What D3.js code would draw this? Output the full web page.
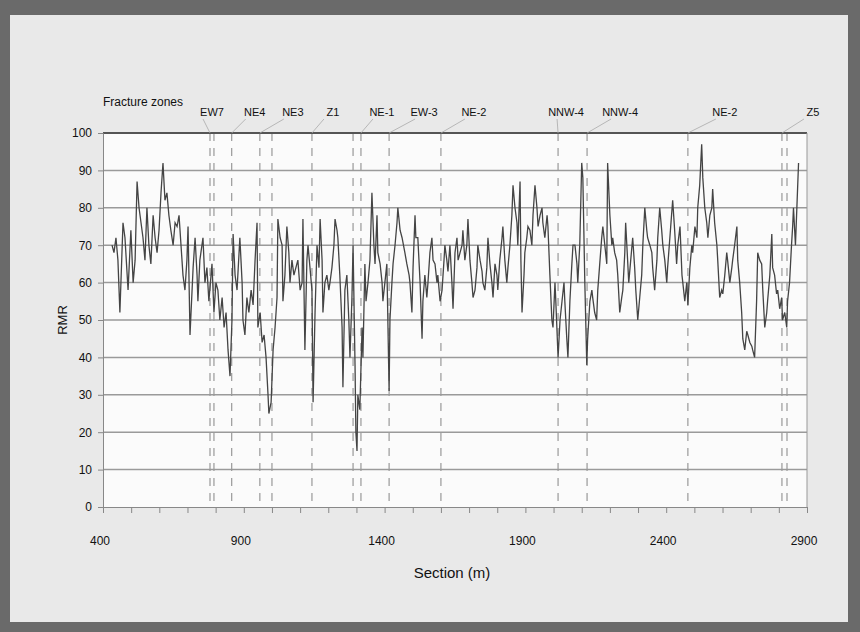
<!DOCTYPE html>
<html>
<head>
<meta charset="utf-8">
<script src="https://cdn.jsdelivr.net/npm/d3@7"></script>
<style>
  body { margin: 0; background: #666; }
  svg { display: block; font-family: "Liberation Sans", Arial, sans-serif; }
</style>
</head>
<body>
<div id="chart"></div>
<script>
// RMR profile along the tunnel section (m)
var section = [
  432,439,446,453,460,471,478,489,499,507,
  514,521,528,535,542,549,556,563,570,578,
  585,592,599,606,613,620,627,634,641,649,
  656,663,670,677,684,691,698,702,709,720,
  727,734,737,744,755,762,769,776,787,794,
  801,808,815,823,830,837,844,851,858,862,
  869,876,886,894,897,904,911,918,926,933,
  940,947,950,958,965,972,979,986,989,997,
  1004,1011,1018,1021,1029,1036,1039,1046,1053,1060,
  1064,1071,1078,1085,1092,1100,1107,1110,1117,1124,
  1128,1135,1142,1146,1153,1160,1167,1171,1178,1181,
  1188,1195,1202,1206,1213,1220,1224,1231,1234,1241,
  1249,1252,1259,1266,1273,1277,1284,1288,1295,1298,
  1302,1305,1312,1320,1323,1330,1334,1341,1348,1355,
  1362,1366,1373,1376,1384,1391,1394,1401,1408,1416,
  1419,1426,1430,1437,1444,1447,1455,1462,1472,1479,
  1487,1490,1497,1501,1508,1511,1518,1526,1533,1536,
  1543,1550,1554,1561,1568,1572,1579,1586,1589,1597,
  1604,1611,1614,1621,1625,1632,1639,1643,1650,1657,
  1661,1668,1675,1678,1685,1692,1696,1703,1710,1714,
  1721,1728,1731,1739,1746,1749,1756,1763,1767,1774,
  1781,1785,1792,1799,1802,1809,1817,1820,1827,1834,
  1838,1845,1852,1856,1863,1870,1873,1881,1884,1888,
  1895,1898,1905,1909,1916,1923,1927,1934,1941,1945,
  1952,1959,1962,1969,1977,1980,1987,1994,1998,2005,
  2008,2016,2023,2030,2037,2040,2047,2051,2058,2065,
  2069,2076,2083,2086,2093,2100,2104,2111,2118,2121,
  2129,2136,2139,2146,2153,2157,2164,2171,2175,2182,
  2189,2192,2200,2207,2210,2217,2224,2228,2235,2242,
  2246,2253,2256,2263,2267,2274,2281,2288,2292,2299,
  2306,2313,2317,2324,2331,2334,2342,2349,2352,2359,
  2367,2370,2377,2384,2388,2395,2402,2405,2413,2416,
  2423,2430,2437,2441,2449,2456,2459,2466,2473,2477,
  2484,2491,2494,2502,2509,2512,2519,2526,2530,2537,
  2544,2548,2555,2562,2565,2572,2580,2583,2590,2597,
  2601,2608,2615,2618,2626,2633,2636,2643,2651,2654,
  2661,2668,2672,2679,2686,2690,2697,2704,2707,2714,
  2721,2725,2732,2739,2743,2750,2757,2760,2768,2775,
  2778,2785,2792,2796,2803,2810,2813,2821,2828,2831,
  2838,2845,2849,2852,2859,2863,2870
];
var rmr = [
  70,68,72,66,52,76,72,58,74,60,
  66,87,80,76,72,66,80,70,65,78,
  72,68,74,84,92,82,84,78,74,70,
  76,75,78,70,62,58,66,75,46,64,
  72,62,55,66,72,60,64,55,65,52,
  60,58,50,56,48,52,42,35,50,73,
  62,58,72,60,50,46,56,52,58,54,
  66,76,48,52,44,46,40,30,25,28,
  42,48,56,77,72,70,55,62,75,68,
  60,66,62,64,66,58,60,77,42,66,
  70,64,58,28,52,70,64,77,66,52,
  60,62,58,60,64,70,77,74,72,62,
  48,32,58,62,50,40,56,70,38,20,
  15,30,26,48,40,65,55,60,66,84,
  70,65,78,68,65,60,55,60,65,31,
  50,60,65,70,76,80,74,72,68,65,
  62,60,52,64,78,72,72,60,45,55,
  62,56,60,68,72,66,65,60,62,55,
  58,66,70,66,63,70,60,53,68,72,
  66,68,70,74,66,70,77,66,60,56,
  58,64,70,66,63,60,58,64,72,65,
  60,56,65,62,58,66,72,75,66,60,
  64,70,78,86,80,76,70,87,66,52,
  62,68,72,75,74,70,78,86,80,75,
  78,80,76,72,78,75,62,50,48,60,
  55,40,50,55,60,55,45,40,55,65,
  70,70,65,60,70,92,88,60,38,45,
  55,58,56,52,50,58,65,72,75,70,
  65,92,78,70,72,68,66,62,52,56,
  58,68,76,66,60,66,72,64,58,50,
  56,62,70,80,74,72,70,68,64,58,
  66,72,80,74,70,66,60,64,72,75,
  82,74,65,70,75,62,60,55,60,54,
  64,70,68,75,72,80,86,97,88,80,
  76,72,78,80,85,76,70,66,56,58,
  57,62,68,66,60,64,66,70,75,66,
  60,52,45,42,47,46,44,43,42,40,
  55,68,66,65,58,48,52,55,62,73,
  64,62,57,58,53,56,50,52,48,55,
  60,70,75,80,70,78,92
];

// fracture zones: dashed lines (m) and their names
var zoneLines = [780, 794, 857, 957, 1000, 1142, 1288, 1316, 1416, 1600, 2016, 2119, 2477, 2811, 2829];
var zoneNames = ["EW7", "NE4", "NE3", "Z1", "NE-1", "EW-3", "NE-2", "NNW-4", "NNW-4", "NE-2", "Z5"];
var zoneAt    = [780, 857, 957, 1142, 1316, 1416, 1600, 2016, 2119, 2477, 2811];
var labelShift = [2, 23, 33, 21, 21, 35, 33, 8, 33, 37, 31];   // px, label offset from its line

var xTicks = [400, 900, 1400, 1900, 2400, 2900];
var yTicks = [0, 10, 20, 30, 40, 50, 60, 70, 80, 90, 100];

var W = 860, H = 632;
var margin = {top: 133, right: 53, bottom: 125, left: 103},
  width = W - margin.left - margin.right,
  height = H - margin.top - margin.bottom;

var svg = d3.select("#chart").append("svg")
  .attr("width", W).attr("height", H);

// frame
svg.append("rect").attr("width", W).attr("height", H).attr("fill", "#6a6a6a");
svg.append("rect").attr("x", 10).attr("y", 15).attr("width", 838).attr("height", 607)
  .attr("fill", "#e9e9e9");

var g = svg.append("g")
  .attr("transform", "translate(" + margin.left + "," + margin.top + ")");

var x = d3.scaleLinear().domain([400, 2900]).range([0, width]);
var y = d3.scaleLinear().domain([0, 100]).range([height, 0]);

g.append("rect").attr("width", width).attr("height", height).attr("fill", "#fbfbfb");

// horizontal grid
g.selectAll(".grid")
  .data(yTicks.filter(d => d > 0 && d < 100))
  .enter().append("line")
  .attr("class", "grid")
  .attr("x1", 0).attr("x2", width)
  .attr("y1", d => y(d)).attr("y2", d => y(d))
  .style("stroke", "#9a9a9a")
  .style("stroke-width", 1.5);

// fracture zone lines
g.selectAll(".zone")
  .data(zoneLines)
  .enter().append("line")
  .attr("class", "zone")
  .attr("x1", d => x(d)).attr("x2", d => x(d))
  .attr("y1", 0).attr("y2", height)
  .style("stroke", "#999")
  .style("stroke-width", 1.2)
  .style("stroke-dasharray", "8,7");

// RMR line
var pts = section.map((s, i) => ({s: s, v: rmr[i]}));
var line = d3.line().x(d => x(d.s)).y(d => y(d.v));
g.append("path")
  .datum(pts)
  .attr("d", line)
  .style("fill", "none")
  .style("stroke", "#444")
  .style("stroke-width", 1.3);

// border lines
g.append("line").attr("x1", 0).attr("x2", width).attr("y1", 0).attr("y2", 0)
  .style("stroke", "#555").style("stroke-width", 2);
g.append("line").attr("x1", width).attr("x2", width).attr("y1", 0).attr("y2", height)
  .style("stroke", "#999").style("stroke-width", 1);

// axes
var xAxis = g.append("g")
  .attr("transform", "translate(0," + height + ")")
  .call(d3.axisBottom(x).tickValues(d3.range(400, 2901, 100)).tickSize(6).tickFormat(""));
xAxis.select(".domain").style("stroke", "#888");
xAxis.selectAll(".tick line").style("stroke", "#888");

g.selectAll(".xlab")
  .data(xTicks)
  .enter().append("text")
  .attr("class", "xlab")
  .attr("x", d => x(d) - 3)
  .attr("y", height + 38)
  .attr("text-anchor", "middle")
  .style("font-size", "12px")
  .style("fill", "#111")
  .text(d => d);

var yAxis = g.append("g")
  .call(d3.axisLeft(y).tickValues(yTicks).tickSize(5).tickPadding(6));
yAxis.select(".domain").style("stroke", "#888");
yAxis.selectAll(".tick line").style("stroke", "#888");
yAxis.selectAll("text").style("font-size", "12px").style("fill", "#111")
  .style("font-family", "\"Liberation Sans\", Arial, sans-serif");

// axis titles
svg.append("text")
  .attr("x", margin.left + width / 2 - 3)
  .attr("y", 578)
  .attr("text-anchor", "middle")
  .style("font-size", "15px")
  .style("fill", "#111")
  .text("Section (m)");

svg.append("text")
  .attr("transform", "translate(67," + (margin.top + height / 2) + ") rotate(-90)")
  .attr("text-anchor", "middle")
  .style("font-size", "13px")
  .style("fill", "#111")
  .text("RMR");

// fracture zone header and labels
svg.append("text")
  .attr("x", 103).attr("y", 106)
  .style("font-size", "12px")
  .style("fill", "#111")
  .text("Fracture zones");

var labels = g.selectAll(".zlab")
  .data(zoneNames)
  .enter().append("g")
  .attr("class", "zlab");

labels.append("line")
  .attr("x1", (d, i) => x(zoneAt[i]) + labelShift[i] - 9)
  .attr("y1", -14)
  .attr("x2", (d, i) => x(zoneAt[i]))
  .attr("y2", 0)
  .style("stroke", "#aaa")
  .style("stroke-width", 0.8);

labels.append("text")
  .attr("x", (d, i) => x(zoneAt[i]) + labelShift[i])
  .attr("y", -17)
  .attr("text-anchor", "middle")
  .style("font-size", "11px")
  .style("fill", "#111")
  .text(d => d);
</script>
</body>
</html>
